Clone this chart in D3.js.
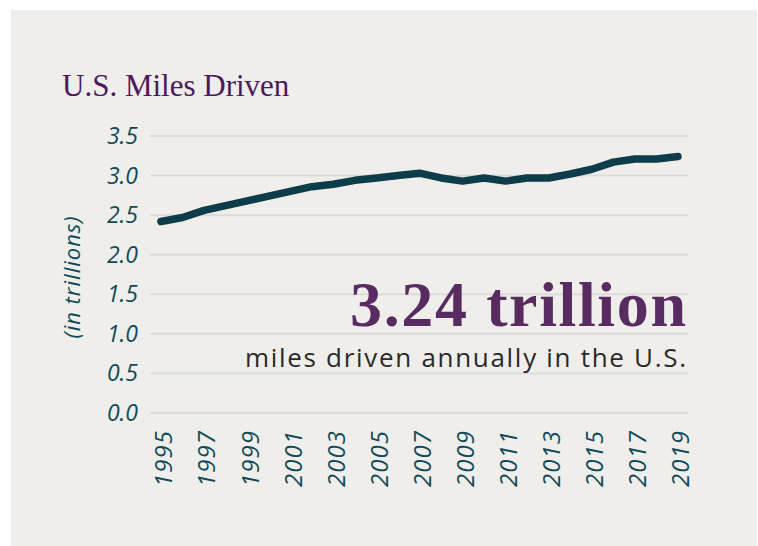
<!DOCTYPE html>
<html>
<head>
<meta charset="utf-8">
<script src="https://cdn.jsdelivr.net/npm/d3@7"></script>
<style>
  body { margin: 0; background: #fff; }
  svg { display: block; }
</style>
</head>
<body>
<svg id="chart" width="758" height="546"></svg>
<script>
// miles driven, trillions
var years = [1995, 1996, 1997, 1998, 1999, 2000, 2001, 2002, 2003, 2004, 2005, 2006,
             2007, 2008, 2009, 2010, 2011, 2012, 2013, 2014, 2015, 2016, 2017, 2018, 2019];
var miles = [2.42, 2.47, 2.56, 2.62, 2.68, 2.74, 2.80, 2.86, 2.89, 2.94, 2.97, 3.00,
             3.03, 2.97, 2.93, 2.97, 2.93, 2.97, 2.97, 3.02, 3.08, 3.17, 3.21, 3.21, 3.24];
var yTicks = [0, 0.5, 1, 1.5, 2, 2.5, 3, 3.5];
var xTickYears = [1995, 1997, 1999, 2001, 2003, 2005, 2007, 2009, 2011, 2013, 2015, 2017, 2019];

var data = years.map(function(d, i) { return {x: d, y: miles[i]}; });

var svg = d3.select("#chart");
var axisColor = "#0f4a5a";
var sans = "'Open Sans', sans-serif";

svg.append("rect")
    .attr("x", 11).attr("y", 10)
    .attr("width", 746).attr("height", 536)
    .attr("fill", "#efeeea");

var x = d3.scaleLinear().domain([1995, 2019]).range([161, 678]);
var y = d3.scaleLinear().domain([0, 3.5]).range([413, 136]);

// gridlines
svg.append("g")
    .selectAll("line")
    .data(yTicks)
    .join("line")
    .attr("x1", 150).attr("x2", 688)
    .attr("y1", function(d) { return y(d); })
    .attr("y2", function(d) { return y(d); })
    .attr("stroke", "#dcdbd7")
    .attr("stroke-width", 2);

// y labels
svg.append("g")
    .selectAll("text")
    .data(yTicks)
    .join("text")
    .attr("x", 138)
    .attr("y", function(d) { return y(d); })
    .attr("dy", "0.35em")
    .attr("text-anchor", "end")
    .attr("font-family", sans)
    .attr("font-style", "italic")
    .attr("font-size", 23)
    .attr("fill", axisColor)
    .text(function(d) { return d3.format(".1f")(d); });

svg.append("text")
    .attr("transform", "translate(72,277) rotate(-90)")
    .attr("dy", "0.35em")
    .attr("text-anchor", "middle")
    .attr("font-family", sans)
    .attr("font-style", "italic")
    .attr("font-size", 22)
    .attr("letter-spacing", 1)
    .attr("fill", axisColor)
    .text("(in trillions)");

// x labels
svg.append("g")
    .selectAll("text")
    .data(xTickYears)
    .join("text")
    .attr("transform", function(d) { return "translate(" + (x(d) + 3) + ",430) rotate(-90)"; })
    .attr("dy", "0.35em")
    .attr("text-anchor", "end")
    .attr("font-family", sans)
    .attr("font-style", "italic")
    .attr("font-size", 24)
    .attr("letter-spacing", 1)
    .attr("fill", axisColor)
    .text(function(d) { return d; });

var line = d3.line()
    .x(function(d) { return x(d.x); })
    .y(function(d) { return y(d.y); });

svg.append("path")
    .datum(data)
    .attr("fill", "none")
    .attr("stroke", "#0d3c4a")
    .attr("stroke-width", 7.5)
    .attr("stroke-linecap", "round")
    .attr("stroke-linejoin", "round")
    .attr("d", line);

// title and callout
svg.append("text")
    .attr("x", 62).attr("y", 96)
    .attr("font-family", "'Liberation Serif', serif")
    .attr("font-size", 31)
    .attr("fill", "#4a1a5c")
    .text("U.S. Miles Driven");

svg.append("text")
    .attr("x", 686).attr("y", 326)
    .attr("text-anchor", "end")
    .attr("font-family", "'Liberation Serif', serif")
    .attr("font-weight", "bold")
    .attr("font-size", 64)
    .attr("fill", "#582c61")
    .attr("textLength", 336)
    .attr("lengthAdjust", "spacing")
    .text(d3.format(".2f")(miles[miles.length - 1]) + " trillion");

svg.append("text")
    .attr("x", 686).attr("y", 367)
    .attr("text-anchor", "end")
    .attr("font-family", sans)
    .attr("font-size", 26)
    .attr("fill", "#2a2a2a")
    .attr("textLength", 441)
    .attr("lengthAdjust", "spacing")
    .text("miles driven annually in the U.S.");
</script>
</body>
</html>
